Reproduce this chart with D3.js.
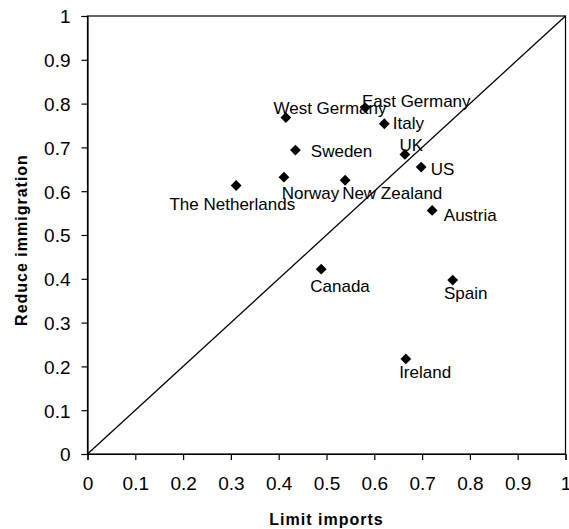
<!DOCTYPE html>
<html><head><meta charset="utf-8">
<script src="https://cdn.jsdelivr.net/npm/d3@7"></script>
<style>body{margin:0;background:#fff}svg{display:block}</style>
</head><body>
<script>
// ---- data ----
const countries = ["The Netherlands","West Germany","East Germany","Italy","UK","Sweden","US","Norway","New Zealand","Austria","Canada","Spain","Ireland"];
const limitImports = [0.311,0.415,0.581,0.621,0.664,0.435,0.698,0.411,0.539,0.721,0.489,0.764,0.666];
const reduceImmigration = [0.613,0.768,0.791,0.754,0.684,0.694,0.655,0.632,0.625,0.556,0.422,0.397,0.217];
const tickValues = [0,0.1,0.2,0.3,0.4,0.5,0.6,0.7,0.8,0.9,1];
const xTitle = "Limit imports";
const yTitle = "Reduce immigration";

// ---- layout (label offsets from marker, px) ----
const labelOffsets = [[-66.7,24.7],[-12.4,-3.4],[-3.3,-1],[8.4,5.6],[-5.4,-3.6],[15.4,6.7],[9.7,7.7],[-2.3,21.7],[-3,18.7],[11.7,10.3],[-11,23],[-8.7,19],[-6.7,19.3]];

const W = 569, H = 529;
const L = 87.5, R = 565.5, T = 16, B = 454;
const svg = d3.select("body").append("svg").attr("width", W).attr("height", H);
const x = d3.scaleLinear().domain([0,1]).range([L,R]);
const y = d3.scaleLinear().domain([0,1]).range([B,T]);
const font = "'Liberation Sans', Arial, sans-serif";

// plot border
svg.append("rect").attr("x",L).attr("y",T).attr("width",R-L).attr("height",B-T)
  .attr("fill","none").attr("stroke","#000").attr("stroke-width",1.2);

// diagonal
svg.append("line").attr("x1",x(0)).attr("y1",y(0)).attr("x2",x(1)).attr("y2",y(1))
  .attr("stroke","#000").attr("stroke-width",1.3);

// axes
const fmt = d => d === 0 ? "0" : d === 1 ? "1" : d3.format(".1f")(d);
const xAxis = svg.append("g").attr("transform",`translate(0,${B})`)
  .call(d3.axisBottom(x).tickValues(tickValues).tickFormat(fmt).tickSizeOuter(0).tickSize(6).tickPadding(17));
const yAxis = svg.append("g").attr("transform",`translate(${L},0)`)
  .call(d3.axisLeft(y).tickValues(tickValues).tickFormat(fmt).tickSizeOuter(0).tickSize(6).tickPadding(11));
[xAxis,yAxis].forEach(g=>{
  g.select(".domain").attr("stroke","#000").attr("stroke-width",1.2);
  g.selectAll(".tick line").attr("stroke","#000").attr("stroke-width",1.2);
  g.selectAll(".tick text").attr("fill","#000").style("font-family",font).style("font-size","19px");
});
yAxis.selectAll(".tick text").attr("dy","0.36em");

// axis titles
svg.append("text").attr("x",(L+R)/2).attr("y",525).attr("text-anchor","middle")
  .style("font-family",font).style("font-size","16px").style("font-weight","bold").style("letter-spacing","1px")
  .text(xTitle);
svg.append("text").attr("transform",`translate(27,${(155+325)/2}) rotate(-90)`).attr("text-anchor","middle")
  .style("font-family",font).style("font-size","16px").style("font-weight","bold").style("letter-spacing","1px")
  .text(yTitle);

// points
const data = countries.map((c,i)=>({c, xv:limitImports[i], yv:reduceImmigration[i], off:labelOffsets[i]}));
const diamond = "M0,-5.4L5.4,0L0,5.4L-5.4,0Z";
svg.append("g").selectAll("path").data(data).join("path")
  .attr("d",diamond).attr("transform",d=>`translate(${x(d.xv)},${y(d.yv)})`).attr("fill","#000");
svg.append("g").selectAll("text").data(data).join("text")
  .attr("x",d=>x(d.xv)+d.off[0]).attr("y",d=>y(d.yv)+d.off[1])
  .style("font-family",font).style("font-size","17px").attr("fill","#000")
  .text(d=>d.c);
</script>
</body></html>
